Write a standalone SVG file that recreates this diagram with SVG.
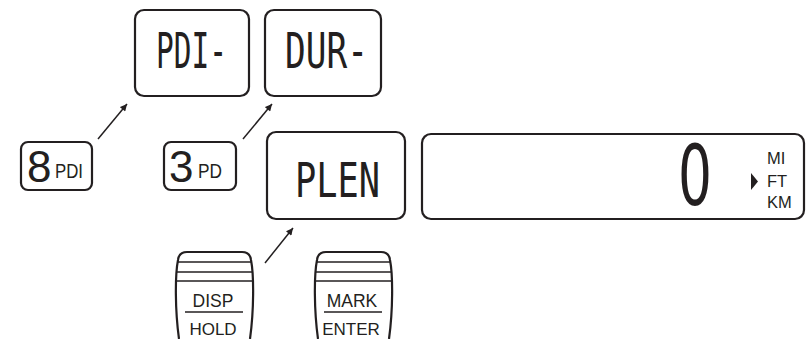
<svg xmlns="http://www.w3.org/2000/svg" width="808" height="339" viewBox="0 0 808 339">
<style>
.box{fill:#fff;stroke:#231f20;stroke-width:2.2}
.lcd{font-family:"DejaVu Sans Mono","Liberation Mono",monospace;fill:#231f20}
.lcd0{font-family:"DejaVu Sans","Liberation Sans",sans-serif;fill:#231f20}
.lbl{font-family:"Liberation Sans",Arial,sans-serif;fill:#231f20}
.conn{stroke:#231f20;stroke-width:1.5;fill:none}
.key{fill:#fff;stroke:#231f20;stroke-width:2.2}
.kl{stroke:#231f20;stroke-width:1.6}
</style>
<defs>
<marker id="ah" viewBox="0 0 10 10" refX="10" refY="5" markerWidth="9" markerHeight="7" orient="auto" markerUnits="userSpaceOnUse">
<path d="M0,0 L10,5 L0,10 Z" fill="#231f20"/>
</marker>
<g id="keyshape">
<path class="key" d="M179,339 C175,310 175,275 178,260 Q179,252 187,252 L242,252 Q250,252 251,260 C254,275 254,310 250,339"/>
<line class="kl" x1="177.5" y1="262" x2="251.5" y2="262"/>
<line class="kl" x1="176.8" y1="272" x2="252.2" y2="272"/>
<line class="kl" x1="176.5" y1="281" x2="252.5" y2="281"/>
<line class="kl" x1="185" y1="312" x2="243" y2="312"/>
</g>
</defs>
<g id="connectors">
<line class="conn" x1="98" y1="139" x2="127" y2="104" marker-end="url(#ah)"/>
<line class="conn" x1="243" y1="139" x2="272" y2="104" marker-end="url(#ah)"/>
<line class="conn" x1="265" y1="263" x2="293" y2="228" marker-end="url(#ah)"/>
</g>
<g id="lcd-pdi">
<rect class="box" x="135" y="10" width="114" height="86" rx="9"/>
<text class="lcd" x="156" y="68" font-size="49" textLength="71" lengthAdjust="spacingAndGlyphs">PDI-</text>
</g>
<g id="lcd-dur">
<rect class="box" x="265" y="10" width="116" height="86" rx="9"/>
<text class="lcd" x="285" y="68" font-size="49" textLength="83" lengthAdjust="spacingAndGlyphs">DUR-</text>
</g>
<g id="key-8pdi">
<rect class="box" x="21" y="142" width="71" height="48" rx="7"/>
<text class="lbl" x="27" y="182" font-size="44">8</text>
<text class="lbl" x="55" y="178" font-size="20" textLength="28" lengthAdjust="spacingAndGlyphs">PDI</text>
</g>
<g id="key-3pd">
<rect class="box" x="164" y="142" width="72" height="48" rx="7"/>
<text class="lbl" x="169" y="182" font-size="44">3</text>
<text class="lbl" x="198" y="178" font-size="20" textLength="24" lengthAdjust="spacingAndGlyphs">PD</text>
</g>
<g id="lcd-plen">
<rect class="box" x="267" y="132" width="138" height="87" rx="9"/>
<text class="lcd" x="295" y="197" font-size="48" textLength="85" lengthAdjust="spacingAndGlyphs">PLEN</text>
</g>
<g id="lcd-main">
<rect class="box" x="422" y="134" width="382" height="85" rx="9"/>
<text class="lcd0" x="678" y="205" font-size="84" textLength="34" lengthAdjust="spacingAndGlyphs">0</text>
<path d="M751,173 L758,181.5 L751,190 Z" fill="#231f20"/>
<text class="lbl" x="767" y="164" font-size="16.5">MI</text>
<text class="lbl" x="767" y="187" font-size="16.5">FT</text>
<text class="lbl" x="767" y="208" font-size="16.5">KM</text>
</g>
<g id="key-disp">
<use href="#keyshape"/>
<text class="lbl" x="213" y="307" font-size="17.5" text-anchor="middle">DISP</text>
<text class="lbl" x="213" y="335" font-size="17" text-anchor="middle">HOLD</text>
</g>
<g id="key-mark">
<use href="#keyshape" transform="translate(139,0)"/>
<text class="lbl" x="352" y="307" font-size="17.5" text-anchor="middle">MARK</text>
<text class="lbl" x="351" y="335" font-size="17" text-anchor="middle">ENTER</text>
</g>
</svg>
